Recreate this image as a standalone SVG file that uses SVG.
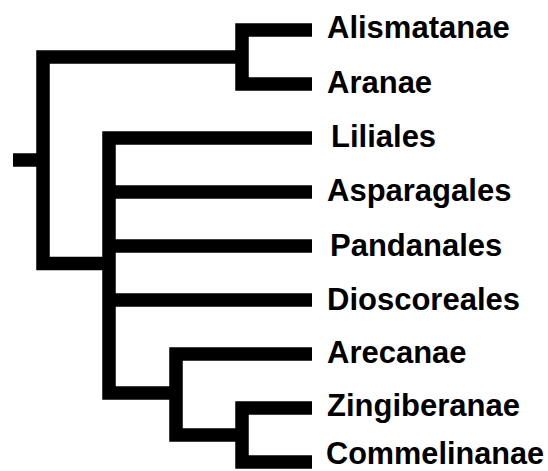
<svg xmlns="http://www.w3.org/2000/svg" width="548" height="471" viewBox="0 0 548 471">
<style>
.e{fill:none;stroke:#000;stroke-width:13.5;stroke-linecap:butt;stroke-linejoin:miter}
.t{font-family:"Liberation Sans",Arial,sans-serif;font-weight:bold;font-size:31px;fill:#000}
</style>
<rect width="548" height="471" fill="#fff"/>
<g id="connectors">
<path class="e" d="M312,30 H242 V84 H312"/>
<path class="e" d="M242,57 H43 V263.5 H109"/>
<path class="e" d="M13,160 H43"/>
<path class="e" d="M312,138 H109 V393 H176"/>
<path class="e" d="M109,192 H312"/>
<path class="e" d="M109,246 H312"/>
<path class="e" d="M109,300 H312"/>
<path class="e" d="M312,354 H176 V435 H242"/>
<path class="e" d="M312,408 H242 V462 H312"/>
</g>
<g id="alismatanae"><text class="t" x="327" y="38">Alismatanae</text></g>
<g id="aranae"><text class="t" x="327" y="93">Aranae</text></g>
<g id="liliales"><text class="t" x="331" y="147">Liliales</text></g>
<g id="asparagales"><text class="t" x="327" y="201">Asparagales</text></g>
<g id="pandanales"><text class="t" x="330" y="256">Pandanales</text></g>
<g id="dioscoreales"><text class="t" x="327" y="310">Dioscoreales</text></g>
<g id="arecanae"><text class="t" x="327" y="363">Arecanae</text></g>
<g id="zingiberanae"><text class="t" x="327" y="416">Zingiberanae</text></g>
<g id="commelinanae"><text class="t" x="326" y="464" textLength="218" lengthAdjust="spacingAndGlyphs">Commelinanae</text></g>
</svg>
